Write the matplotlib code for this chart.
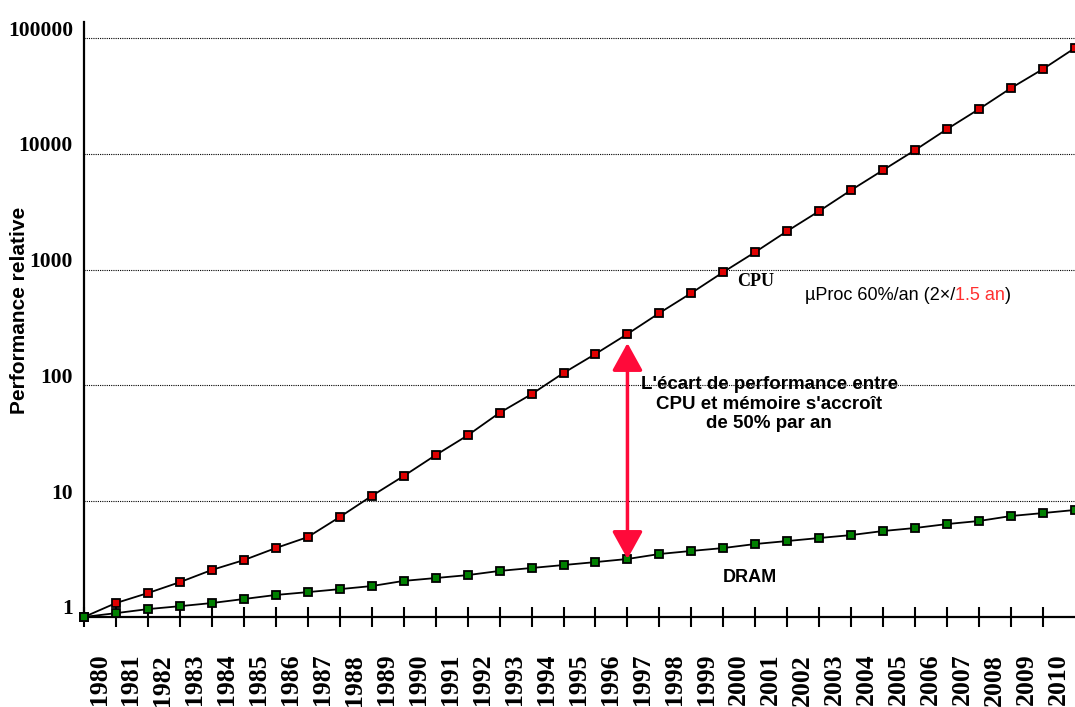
import matplotlib
matplotlib.use("Agg")
import matplotlib.pyplot as plt
from matplotlib.ticker import NullLocator
from matplotlib.transforms import ScaledTranslation
from matplotlib.offsetbox import TextArea, HPacker, AnnotationBbox

years = list(range(1980, 2012))
cpu = [1, 1.32, 1.61, 2.0, 2.55, 3.1, 3.94, 4.9, 7.3, 11.1, 16.5, 25, 37, 58, 84, 128,
       187, 278, 422, 628, 953, 1419, 2154, 3206, 4865, 7244, 10780, 16370, 24370,
       36980, 54000, 82000]
dram = [1, 1.08, 1.17, 1.24, 1.32, 1.43, 1.55, 1.64, 1.74, 1.85, 2.05, 2.17, 2.3, 2.5,
        2.65, 2.81, 2.98, 3.17, 3.5, 3.72, 3.94, 4.27, 4.53, 4.81, 5.1, 5.53, 5.87,
        6.35, 6.75, 7.45, 7.9, 8.4]
year_ticks = list(range(1980, 2011))
perf_ticks = [1, 10, 100, 1000, 10000, 100000]
perf_labels = ["1", "10", "100", "1000", "10000", "100000"]
gap_year = 1997

serif = "Liberation Serif"
sans = "Liberation Sans"

fig = plt.figure(figsize=(10.75, 7.07), dpi=100)
ax = fig.add_axes([84 / 1075, 90 / 707, 991 / 1075, 595 / 707])

ax.set_yscale("log")
ax.set_xlim(1980, 2011)
ax.set_ylim(1, 137500)

# dotted decade lines
for v in perf_ticks[1:]:
    ax.axhline(v, color="black", lw=0.8, ls=(0, (1, 1)), zorder=1)

ax.plot(years, cpu, color="black", lw=1.3, marker="s", ms=5.3, mfc="#e00000",
        mec="black", mew=1.3, clip_on=False, zorder=3)
ax.plot(years, dram, color="black", lw=1.3, marker="s", ms=5.3, mfc="#008000",
        mec="black", mew=1.3, clip_on=False, zorder=3)

for s in ["top", "right"]:
    ax.spines[s].set_visible(False)
for s in ["left", "bottom"]:
    ax.spines[s].set_linewidth(1.6)

ax.set_xticks(year_ticks)
ax.set_xticklabels([str(y) for y in year_ticks], rotation=90, fontfamily=serif,
                   fontweight="bold", fontsize=18.5, va="top", ha="center")
ax.tick_params(axis="x", direction="inout", length=15, width=1.5, pad=19)
shift_x = ScaledTranslation(15 / 100, 0, fig.dpi_scale_trans)
for lab in ax.get_xticklabels():
    lab.set_transform(lab.get_transform() + shift_x)

ax.yaxis.set_minor_locator(NullLocator())
ax.set_yticks(perf_ticks)
ax.set_yticklabels(perf_labels, fontfamily=serif, fontweight="bold", fontsize=15.5)
ax.tick_params(axis="y", length=0, pad=8)
shift_y = ScaledTranslation(0, 10 / 100, fig.dpi_scale_trans)
for lab in ax.get_yticklabels():
    lab.set_transform(lab.get_transform() + shift_y)

fig.text(20 / 1075, 1 - 310 / 707, "Performance relative", rotation=90,
         ha="center", va="center", fontfamily=sans, fontweight="bold", fontsize=15)

# gap arrow between the two curves
i = years.index(gap_year)
ax.annotate("", xy=(gap_year, cpu[i]), xytext=(gap_year, dram[i]),
            arrowprops=dict(arrowstyle="<|-|>,head_length=0.85,head_width=0.47",
                            mutation_scale=20, color="#ff0a3a", lw=2.5,
                            shrinkA=0, shrinkB=6.5), zorder=4)

ax.text(2000.43, 797, "CPU", ha="left", va="center", fontfamily=serif,
        fontweight="bold", fontsize=13)
ax.text(2000.83, 2.2, "DRAM", ha="center", va="center", fontfamily=sans,
        fontweight="bold", fontsize=13)
ax.text(2001.43, 69, "L'écart de performance entre\nCPU et mémoire s'accroît\nde 50% par an",
        ha="center", va="center", multialignment="center", fontfamily=sans,
        fontweight="bold", fontsize=13.5, linespacing=1.2)

tp = dict(fontfamily=sans, fontsize=13)
parts = [TextArea("µProc 60%/an (2×/", textprops=dict(color="black", **tp)),
         TextArea("1.5 an", textprops=dict(color="#ff3030", **tp)),
         TextArea(")", textprops=dict(color="black", **tp))]
box = HPacker(children=parts, align="baseline", pad=0, sep=0)
ab = AnnotationBbox(box, (2002.55, 592), xycoords="data", box_alignment=(0, 0.5),
                    frameon=False, pad=0)
ax.add_artist(ab)

fig.savefig("out.png", dpi=100)
